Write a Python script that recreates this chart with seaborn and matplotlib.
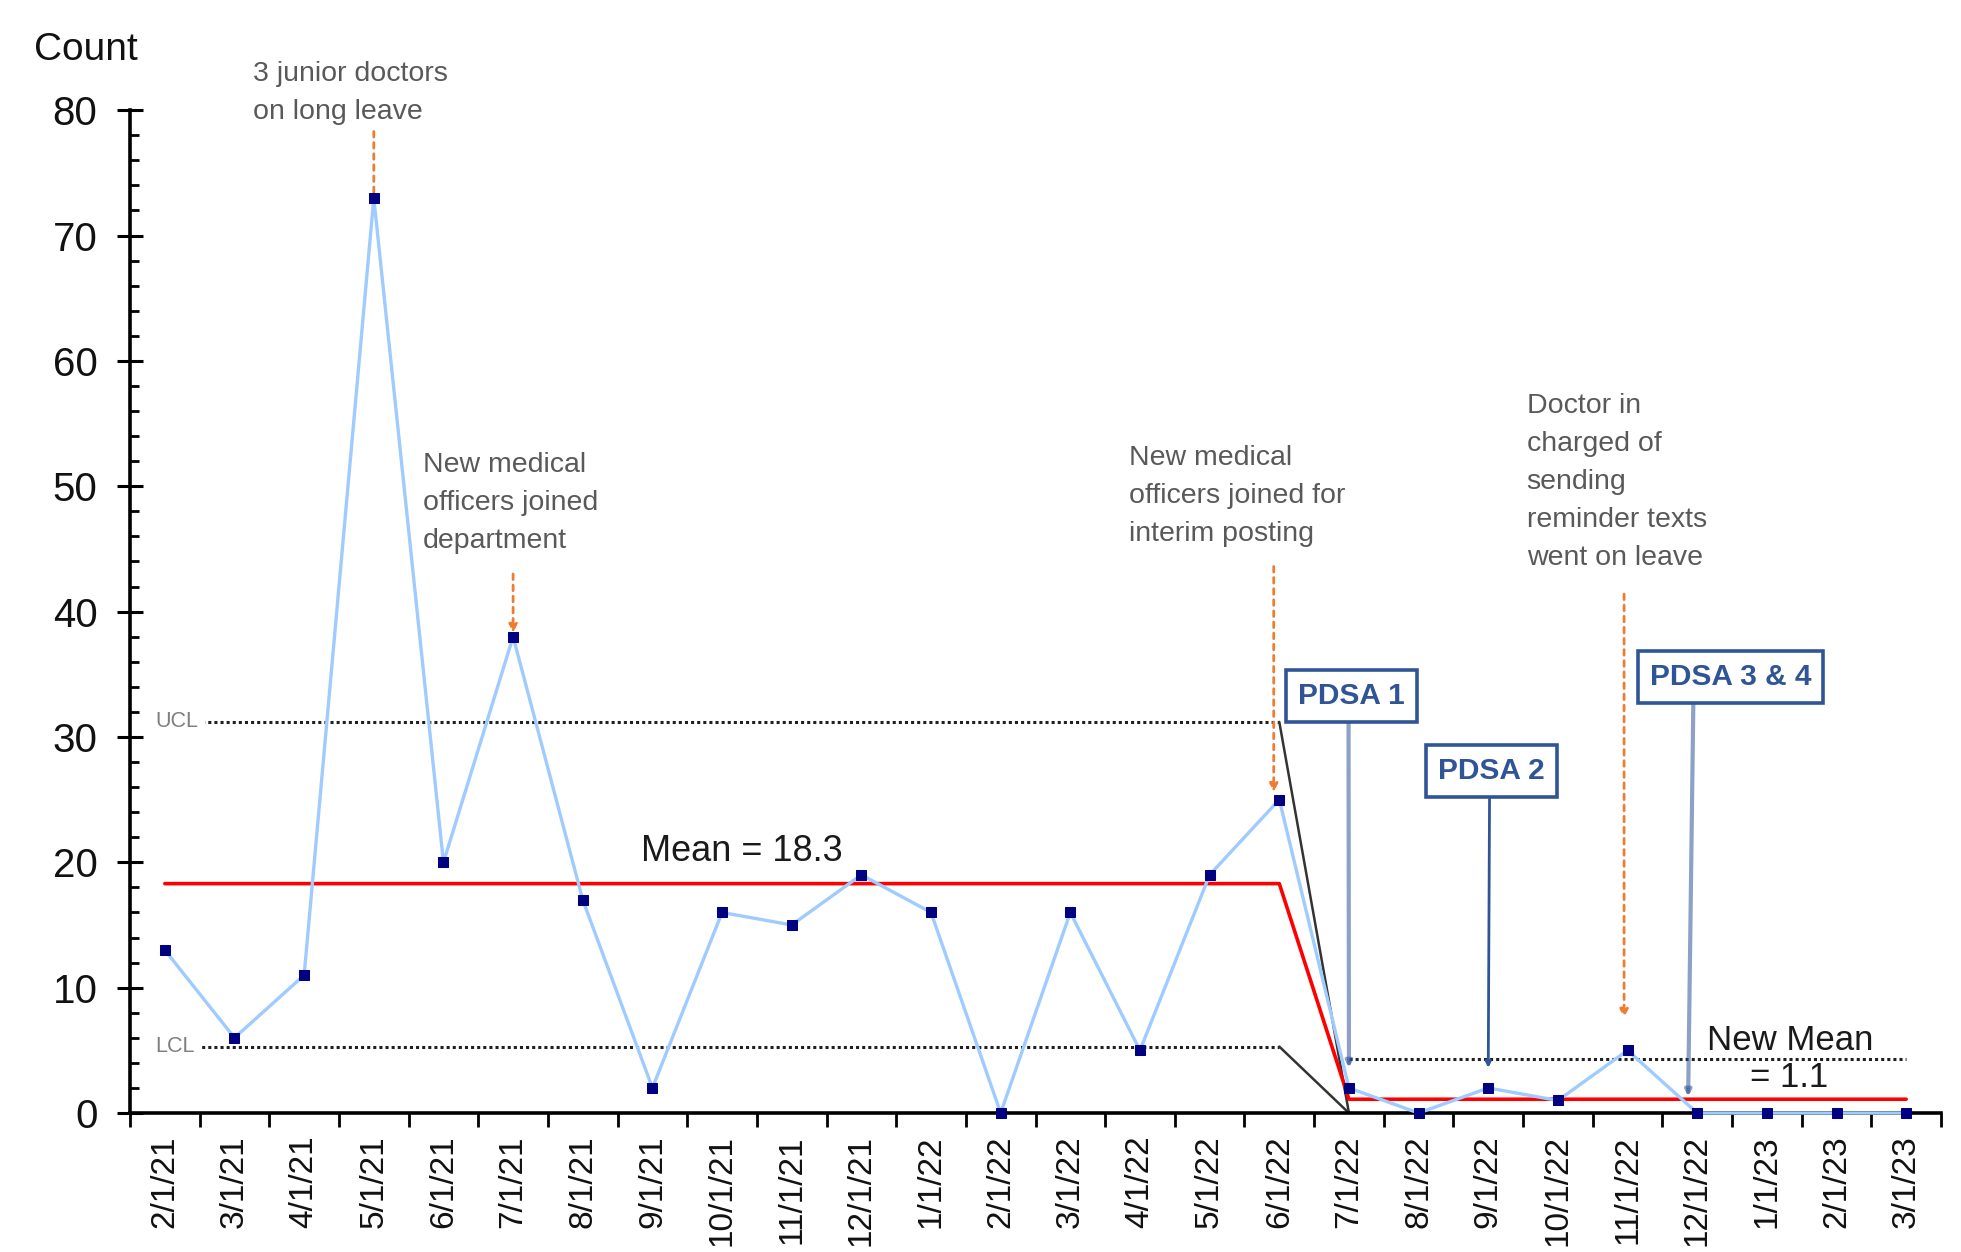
"""Run chart of missed counts with control limits and PDSA annotations."""
import matplotlib
matplotlib.use("Agg")
import matplotlib.pyplot as plt
from matplotlib import font_manager
from matplotlib.ticker import MultipleLocator, FixedLocator
import numpy as np
import pandas as pd
import seaborn as sns

sns.set_theme(style="white")
plt.rcParams["font.family"] = ["Liberation Sans", "DejaVu Sans"]

# ── data ────────────────────────────────────────────────────────────────────
months = ["2/1/21", "3/1/21", "4/1/21", "5/1/21", "6/1/21", "7/1/21", "8/1/21",
          "9/1/21", "10/1/21", "11/1/21", "12/1/21", "1/1/22", "2/1/22", "3/1/22",
          "4/1/22", "5/1/22", "6/1/22", "7/1/22", "8/1/22", "9/1/22", "10/1/22",
          "11/1/22", "12/1/22", "1/1/23", "2/1/23", "3/1/23"]
counts = [13, 6, 11, 73, 20, 38, 17, 2, 16, 15, 19, 16, 0, 16, 5, 19, 25,
          2, 0, 2, 1, 5, 0, 0, 0, 0]

# two phases: before / after PDSA 1
phase_len = [17, 9]
mean_vals = [18.3, 1.1]
ucl_vals = [31.2, 4.3]
lcl_vals = [5.3, 0.0]

LINE_BLUE = "#9FCBFF"; DOT_NAVY = "#000080"; RED = "#FF0000"
ORANGE = "#ED7D31"; PDSA_BLUE = "#2F5597"; NOTE_GRAY = "#595959"; LIM = "#1F1F1F"

installed = {f.name for f in font_manager.fontManager.ttflist}
if "Liberation Sans Narrow" in installed:
    NOTE_FONT, NOTE_SIZE, PDSA_SIZE = "Liberation Sans Narrow", 23, 24
else:
    NOTE_FONT, NOTE_SIZE, PDSA_SIZE = "Liberation Sans", 20.5, 21.5

df = pd.DataFrame({"idx": np.arange(len(counts)), "count": counts})
mean_line = np.repeat(mean_vals, phase_len)
split = phase_len[0]            # first point of phase 2
last = len(counts) - 1

fig = plt.figure(figsize=(19.61, 12.52), dpi=100)
ax = fig.add_axes([0.0663, 0.111, 0.9235, 0.801])

# ── control limits ──────────────────────────────────────────────────────────
dots = (0, (1, 1))
ax.plot([0, split - 1], [ucl_vals[0]] * 2, color=LIM, lw=2.2, ls=dots, zorder=2)
ax.plot([0, split - 1], [lcl_vals[0]] * 2, color=LIM, lw=2.2, ls=dots, zorder=2)
ax.plot([split, last], [ucl_vals[1]] * 2, color=LIM, lw=2.2, ls=dots, zorder=2)
ax.plot([split - 1, split], [ucl_vals[0], lcl_vals[1]], color="#333333", lw=1.8, zorder=2)
ax.plot([split - 1, split], [lcl_vals[0], lcl_vals[1]], color="#333333", lw=1.8, zorder=2)

# mean line
ax.plot(df["idx"], mean_line, color=RED, lw=2.6, zorder=3)

# data series
sns.lineplot(data=df, x="idx", y="count", ax=ax, color=LINE_BLUE, lw=2.4,
             marker="s", markersize=6.5, markerfacecolor=DOT_NAVY,
             markeredgecolor=DOT_NAVY, clip_on=False, zorder=5)

# ── axes styling ────────────────────────────────────────────────────────────
ax.set_xlim(-0.5, len(counts) - 0.5)
ax.set_ylim(0, 80)
ax.set_xlabel("")
ax.set_ylabel("")
ax.set_xticks(df["idx"])
ax.set_xticklabels(months, rotation=90, fontsize=24, color="#111111")
ax.xaxis.set_minor_locator(FixedLocator(np.arange(-0.5, len(counts), 1)))
ax.yaxis.set_major_locator(MultipleLocator(10))
ax.yaxis.set_minor_locator(MultipleLocator(2))
ax.tick_params(axis="x", which="major", bottom=True, length=0, pad=16)
ax.tick_params(axis="x", which="minor", bottom=True, direction="out",
               length=10, width=2, color="black")
ax.tick_params(axis="y", which="major", left=True, direction="inout",
               length=19, width=2.2, pad=14, labelsize=29, color="black",
               labelcolor="#111111")
ax.tick_params(axis="y", which="minor", left=True, direction="in",
               length=6.5, width=2, color="black")
sns.despine(ax=ax)
for side in ("left", "bottom"):
    ax.spines[side].set_linewidth(2.6)
    ax.spines[side].set_color("black")

fig.text(0.0173, 0.96, "Count", fontsize=28, va="center", color="#111111")

# ── text labels ─────────────────────────────────────────────────────────────
lim_kw = dict(fontsize=15.5, color="#7F7F7F", va="center", ha="left", zorder=4,
              bbox=dict(facecolor="white", edgecolor="none", pad=5))
ax.text(-0.14, ucl_vals[0], "UCL", **lim_kw)
ax.text(-0.14, lcl_vals[0], "LCL", **lim_kw)

ax.text(6.84, 20.9, "Mean = 18.3", fontsize=26, color="#1A1A1A", va="center")
ax.text(22.14, 5.8, "New Mean", fontsize=25, color="#1A1A1A", va="center")
ax.text(23.88, 2.8, "= 1.1", fontsize=25, color="#1A1A1A", va="center", ha="right")

note_kw = dict(family=NOTE_FONT, fontsize=NOTE_SIZE, color=NOTE_GRAY,
               ha="left", va="top", linespacing=1.6, clip_on=False)
ax.text(1.27, 83.9, "3 junior doctors\non long leave", **note_kw)
ax.text(3.70, 52.7, "New medical\nofficers joined\ndepartment", **note_kw)
ax.text(13.84, 53.3, "New medical\nofficers joined for\ninterim posting", **note_kw)
ax.text(19.55, 57.4, "Doctor in\ncharged of\nsending\nreminder texts\nwent on leave",
        **note_kw)

# orange event arrows
arr_kw = dict(arrowstyle="-|>", color=ORANGE, lw=2, ls=(0, (2, 2)),
              mutation_scale=12, shrinkA=0, shrinkB=0)
for x0, y0, y1 in [(3, 78.3, 72.2), (5, 43.0, 38.3), (15.92, 43.6, 25.6),
                   (20.95, 41.4, 7.6)]:
    ax.annotate("", xy=(x0, y1), xytext=(x0, y0), arrowprops=arr_kw,
                annotation_clip=False)

# PDSA boxes
def pdsa(label, box_xy, tip_xy, relx, lw, alpha):
    ax.annotate(label, xy=tip_xy, xytext=box_xy, ha="center", va="center",
                family=NOTE_FONT, fontsize=PDSA_SIZE, fontweight="bold",
                color=PDSA_BLUE, zorder=6,
                bbox=dict(boxstyle="square,pad=0.4", facecolor="white",
                          edgecolor=PDSA_BLUE, lw=2.6),
                arrowprops=dict(arrowstyle="-|>", color=PDSA_BLUE, lw=lw,
                                alpha=alpha, mutation_scale=8, shrinkA=0,
                                shrinkB=0, relpos=(relx, 0)))

pdsa("PDSA 1", (17.04, 33.3), (17.0, 3.6), 0.47, 3.0, 0.55)
pdsa("PDSA 2", (19.05, 27.3), (19.0, 3.6), 0.48, 2.0, 1.0)
pdsa("PDSA 3 & 4", (22.48, 34.8), (21.87, 1.3), 0.27, 3.0, 0.55)

fig.savefig("out.png", dpi=100)
plt.close(fig)
